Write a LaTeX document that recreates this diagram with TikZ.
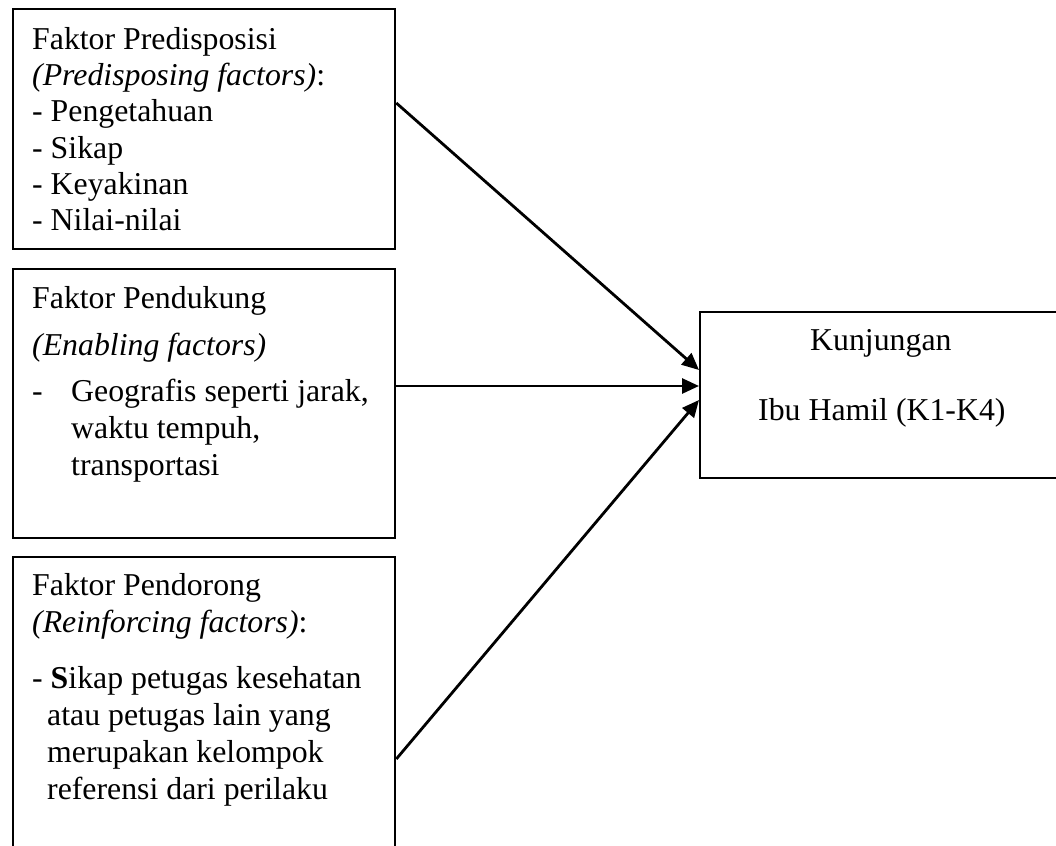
\documentclass[tikz,border=0pt]{standalone}
\usepackage{fontspec}
\setmainfont{Liberation Serif}
\usetikzlibrary{arrows.meta,calc}
\begin{document}
\begin{tikzpicture}[x=1pt,y=-1pt,
  boxline/.style={draw=black,line width=2.3pt,inner sep=0pt,anchor=north west},
  txt/.style={anchor=base west,inner sep=0pt,font=\fontsize{31.8}{36}\selectfont},
  arr/.style={line width=2.8pt,-{Triangle[length=17pt,width=15pt]}}]
\useasboundingbox (0,0) rectangle (1056,845);
\clip (0,0) rectangle (1056,845);
% boxes
\node[boxline,minimum width=382pt,minimum height=240pt] (b1) at (12,8) {};
\node[boxline,minimum width=382pt,minimum height=269pt] (b2) at (12,268) {};
\node[boxline,minimum width=382pt,minimum height=320pt] (b3) at (12,556) {};
\node[boxline,minimum width=400pt,minimum height=166pt] (k) at (699,311) {};
% box 1 text
\node[txt] (t11) at (32,50) {Faktor Predisposisi};
\node[txt] (t12) at (32,86) {\textit{(Predisposing factors)}:};
\node[txt] (t13) at (32,122) {- Pengetahuan};
\node[txt] (t14) at (32,158) {- Sikap};
\node[txt] (t15) at (32,194) {- Keyakinan};
\node[txt] (t16) at (32,230) {- Nilai-nilai};
% box 2 text
\node[txt] (t21) at (32,308) {Faktor Pendukung};
\node[txt] (t22) at (32,355) {\textit{(Enabling factors)}};
\node[txt] (t23) at (32,401) {-};
\node[txt] (t24) at (71,401) {Geografis seperti jarak,};
\node[txt] (t25) at (71,438) {waktu tempuh,};
\node[txt] (t26) at (71,475) {transportasi};
% box 3 text
\node[txt] (t31) at (32,595) {Faktor Pendorong};
\node[txt] (t32) at (32,632) {\textit{(Reinforcing factors)}:};
\node[txt] (t33) at (32,688) {- \textbf{S}ikap petugas kesehatan};
\node[txt] (t34) at (47,725) {atau petugas lain yang};
\node[txt] (t35) at (47,762) {merupakan kelompok};
\node[txt] (t36) at (47,799) {referensi dari perilaku};
% target text
\node[txt] (k1) at (810,350) {Kunjungan};
\node[txt] (k2) at (758,420) {Ibu Hamil (K1-K4)};
% connectors
\coordinate (s1) at ($(b1.north east)+(0,95)$);
\coordinate (s2) at ($(b2.north east)+(0,118)$);
\coordinate (s3) at ($(b3.north east)+(0,203)$);
\coordinate (e1) at ($(k.north west)+(0,59)$);
\coordinate (e2) at ($(k.north west)+(0,75)$);
\coordinate (e3) at ($(k.north west)+(0,89)$);
\draw[arr] (s1) -- (e1);
\draw[arr] (s2) -- (e2);
\draw[arr] (s3) -- (e3);
\end{tikzpicture}
\end{document}
